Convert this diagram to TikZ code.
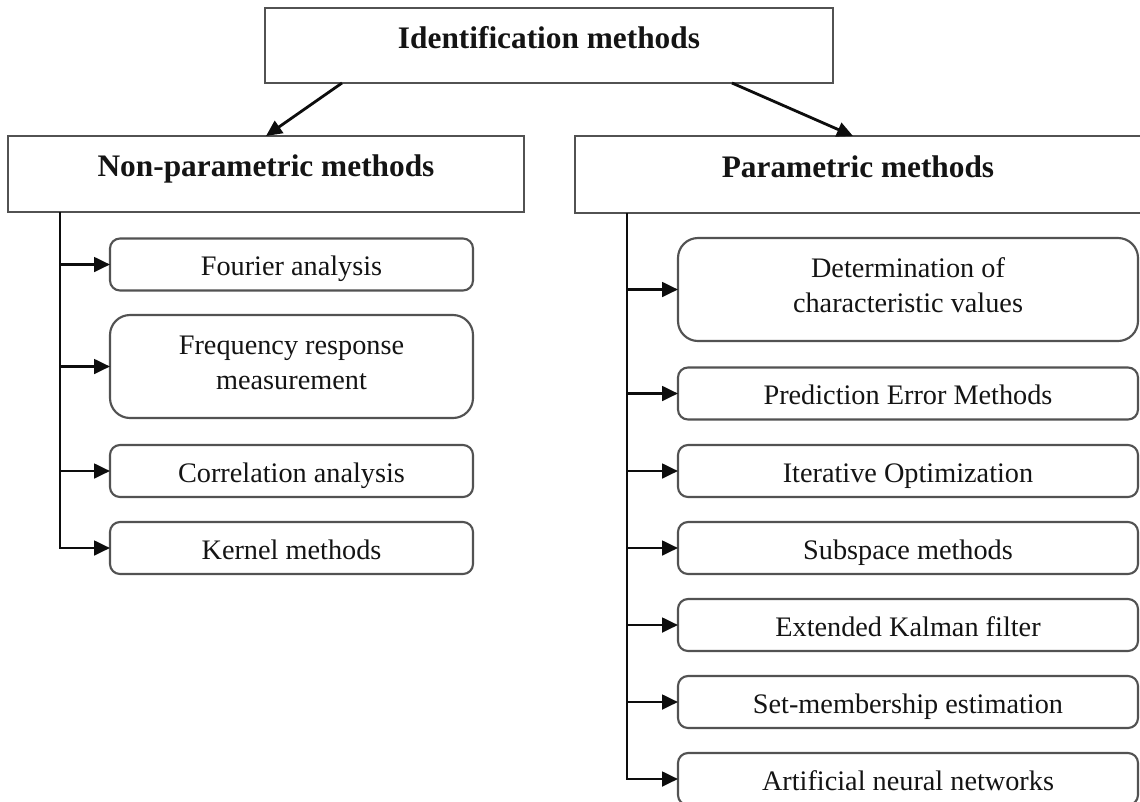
\documentclass[tikz,border=0pt]{standalone}
\usepackage{fontspec}
\setmainfont{Liberation Serif}
\usetikzlibrary{arrows.meta}
\begin{document}
\begin{tikzpicture}[x=0.75pt,y=-0.75pt,
  every node/.style={inner sep=0pt, outer sep=0pt, text=black!92},
  boxline/.style={draw=black!68, line width=1.6pt},
  headbox/.style={boxline, rectangle,
    font=\fontsize{23.5}{28}\selectfont\bfseries,
    text height=14pt, text depth=10pt},
  itembase/.style={boxline, rectangle, rounded corners=7.5pt,
    font=\fontsize{21.2}{26.25}\selectfont},
  leftitem/.style={itembase, minimum width=272.25pt},
  rightitem/.style={itembase, minimum width=345pt},
  oneline/.style={minimum height=39pt, text height=16.5pt, text depth=0pt},
  twoline/.style={minimum height=77.25pt, rounded corners=15pt, align=center},
  arr/.style={draw=black!95, line width=2.1pt, -{Triangle[length=12pt,width=11pt]}}
]
\useasboundingbox (0,0) rectangle (1140,801);
\fill[white] (0,0) rectangle (1140,801);
\clip (0,0) rectangle (1140,801);

% top level and the two families
\node[headbox, minimum width=426pt, minimum height=56.25pt] (top) at (549,45.5) {Identification methods};
\node[headbox, minimum width=387pt, minimum height=57pt] (np) at (266,174) {Non-parametric methods};
\node[headbox, minimum width=438.75pt, minimum height=57.75pt] (par) at (867.5,174.5) {};
\node[font=\fontsize{23.5}{28}\selectfont\bfseries, text height=14pt, text depth=10pt] (partxt) at (858,174.5) {Parametric methods};

\draw[arr] ([xshift=57.75pt]top.south west) -- (np.north);
\draw[arr] ([xshift=-75.75pt]top.south east) -- ([xshift=208.5pt]par.north west);

% non-parametric methods
\node[leftitem, oneline] (fourier) at (291.5,264.5) {Fourier analysis};
\node[leftitem, twoline] (freq) at (291.5,366.5)
  {\rule{0pt}{19.5pt}Frequency response\\measurement\rule[-12pt]{0pt}{12pt}};
\node[leftitem, oneline] (corr) at (291.5,471) {Correlation analysis};
\node[leftitem, oneline] (kernel) at (291.5,548) {Kernel methods};

\coordinate (lt) at ([xshift=39pt]np.south west);
\draw[arr] (lt) |- (kernel.west);
\draw[arr] (lt |- fourier.west) -- (fourier.west);
\draw[arr] (lt |- freq.west) -- (freq.west);
\draw[arr] (lt |- corr.west) -- (corr.west);

% parametric methods
\node[rightitem, twoline] (det) at (908,289.5)
  {\rule{0pt}{19.5pt}Determination of\\characteristic values\rule[-12pt]{0pt}{12pt}};
\node[rightitem, oneline] (pred) at (908,393.5) {Prediction Error Methods};
\node[rightitem, oneline] (iter) at (908,471) {Iterative Optimization};
\node[rightitem, oneline] (sub) at (908,548) {Subspace methods};
\node[rightitem, oneline] (ekf) at (908,625) {Extended Kalman filter};
\node[rightitem, oneline] (setm) at (908,702) {Set-membership estimation};
\node[rightitem, oneline] (ann) at (908,779) {Artificial neural networks};

\coordinate (rt) at ([xshift=39pt]par.south west);
\draw[arr] (rt) |- (ann.west);
\foreach \b in {det,pred,iter,sub,ekf,setm}
  \draw[arr] (rt |- \b.west) -- (\b.west);
\end{tikzpicture}
\end{document}
